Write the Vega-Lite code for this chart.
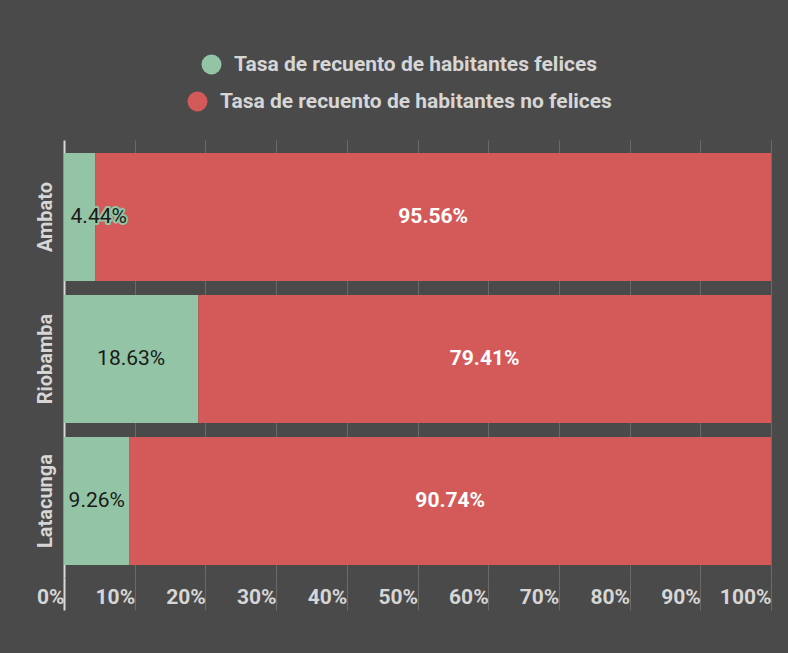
{
  "$schema": "https://vega.github.io/schema/vega-lite/v6.json",
  "autosize": {"type": "none"},
  "width": 707,
  "height": 438,
  "padding": {"left": 64, "top": 140, "right": 17, "bottom": 75},
  "background": "#4a4a4a",
  "config": {
    "view": {"stroke": null},
    "font": "Roboto"
  },
  "data": {
    "values": [
      {"city": "Ambato", "serie": "Tasa de recuento de habitantes felices", "ord": 1, "value": 0.0444},
      {"city": "Ambato", "serie": "Tasa de recuento de habitantes no felices", "ord": 2, "value": 0.9556},
      {"city": "Riobamba", "serie": "Tasa de recuento de habitantes felices", "ord": 1, "value": 0.1863},
      {"city": "Riobamba", "serie": "Tasa de recuento de habitantes no felices", "ord": 2, "value": 0.7941},
      {"city": "Latacunga", "serie": "Tasa de recuento de habitantes felices", "ord": 1, "value": 0.0926},
      {"city": "Latacunga", "serie": "Tasa de recuento de habitantes no felices", "ord": 2, "value": 0.9074}
    ]
  },
  "transform": [
    {"stack": "value", "groupby": ["city"], "sort": [{"field": "ord", "order": "ascending"}], "offset": "normalize", "as": ["x0", "x1"]}
  ],
  "encoding": {
    "y": {
      "field": "city",
      "type": "nominal",
      "sort": ["Ambato", "Riobamba", "Latacunga"],
      "scale": {"paddingInner": 0.1, "paddingOuter": 0.092},
      "axis": {
        "title": null,
        "domain": false,
        "ticks": false,
        "labelAngle": 270,
        "labelAlign": "center",
        "labelBaseline": "bottom",
        "labelPadding": 9,
        "labelFont": "Roboto",
        "labelFontSize": 20,
        "labelFontWeight": "bold",
        "labelColor": "#d6d6d6"
      }
    }
  },
  "layer": [
    {
      "mark": {"type": "bar"},
      "encoding": {
        "x": {
          "field": "x0",
          "type": "quantitative",
          "scale": {"domain": [0, 1], "nice": false},
          "axis": {
            "title": null,
            "format": ".0%",
            "values": [0, 0.1, 0.2, 0.3, 0.4, 0.5, 0.6, 0.7, 0.8, 0.9, 1],
            "grid": true,
            "gridColor": {"condition": {"test": "datum.value === 0", "value": "#d8d8d8"}, "value": "#6a6a6a"},
            "gridWidth": {"condition": {"test": "datum.value === 0", "value": 2}, "value": 1},
            "domain": false,
            "tickSize": 32,
            "tickColor": {"condition": {"test": "datum.value === 0", "value": "#d8d8d8"}, "value": "#6a6a6a"},
            "tickWidth": {"condition": {"test": "datum.value === 0", "value": 2}, "value": 1},
            "labelAlign": "right",
            "labelBaseline": "middle",
            "labelPadding": -13,
            "labelDx": -7,
            "labelFont": "Roboto",
            "labelFontSize": 21,
            "labelFontWeight": "bold",
            "labelColor": "#d6d6d6",
            "labelFlush": false,
            "labelOverlap": false
          }
        },
        "x2": {"field": "x1"},
        "color": {
          "field": "serie",
          "type": "nominal",
          "scale": {
            "domain": ["Tasa de recuento de habitantes felices", "Tasa de recuento de habitantes no felices"],
            "range": ["#93c4a5", "#d45959"]
          },
          "legend": {
            "title": null,
            "orient": "none",
            "legendX": 137,
            "legendY": -86,
            "values": ["Tasa de recuento de habitantes felices"],
            "direction": "vertical",
            "symbolType": "circle",
            "symbolSize": 400,
            "symbolStrokeWidth": 0,
            "symbolOpacity": 1,
            "labelFont": "Roboto",
            "labelFontSize": 21,
            "labelFontWeight": "bold",
            "labelColor": "#d6d6d6",
            "labelOffset": 12,
            "labelLimit": 700
          }
        }
      }
    },
    {
      "transform": [
        {"filter": "datum.ord === 2"},
        {"fold": ["x0", "x1"], "as": ["edge", "pos"]}
      ],
      "mark": {"type": "point", "filled": true, "color": "#d45959", "opacity": 0, "size": 400},
      "encoding": {
        "x": {"field": "pos", "type": "quantitative", "aggregate": "mean", "title": null},
        "shape": {
          "field": "serie",
          "type": "nominal",
          "scale": {"domain": ["Tasa de recuento de habitantes no felices"], "range": ["circle"]},
          "legend": {
            "title": null,
            "orient": "none",
            "legendX": 123,
            "legendY": -49,
            "symbolSize": 400,
            "symbolStrokeWidth": 0,
            "symbolOpacity": 1,
            "symbolFillColor": "#d45959",
            "labelFont": "Roboto",
            "labelFontSize": 21,
            "labelFontWeight": "bold",
            "labelColor": "#d6d6d6",
            "labelOffset": 12,
            "labelLimit": 700
          }
        }
      }
    },
    {
      "transform": [
        {"filter": "datum.ord === 1 && datum.city !== 'Ambato'"},
        {"fold": ["x0", "x1"], "as": ["edge", "pos"]}
      ],
      "mark": {"type": "text", "fontSize": 21, "font": "Roboto", "color": "#1a1a1a", "align": "center", "baseline": "middle"},
      "encoding": {
        "x": {"field": "pos", "type": "quantitative", "aggregate": "mean", "title": null},
        "text": {"field": "value", "type": "quantitative", "aggregate": "max", "format": ".2%"}
      }
    },
    {
      "transform": [
        {"filter": "datum.ord === 1 && datum.city === 'Ambato'"},
        {"fold": ["x0", "x1"], "as": ["edge", "pos"]}
      ],
      "mark": {"type": "text", "fontSize": 21, "font": "Roboto", "color": "#93c4a5", "stroke": "#93c4a5", "strokeWidth": 4, "strokeJoin": "round", "align": "center", "baseline": "middle", "dx": 19},
      "encoding": {
        "x": {"field": "pos", "type": "quantitative", "aggregate": "mean", "title": null},
        "text": {"field": "value", "type": "quantitative", "aggregate": "max", "format": ".2%"}
      }
    },
    {
      "transform": [
        {"filter": "datum.ord === 1 && datum.city === 'Ambato'"},
        {"fold": ["x0", "x1"], "as": ["edge", "pos"]}
      ],
      "mark": {"type": "text", "fontSize": 21, "font": "Roboto", "color": "#1a1a1a", "align": "center", "baseline": "middle", "dx": 19},
      "encoding": {
        "x": {"field": "pos", "type": "quantitative", "aggregate": "mean", "title": null},
        "text": {"field": "value", "type": "quantitative", "aggregate": "max", "format": ".2%"}
      }
    },
    {
      "transform": [
        {"filter": "datum.ord === 2"},
        {"fold": ["x0", "x1"], "as": ["edge", "pos"]}
      ],
      "mark": {"type": "text", "fontSize": 21, "font": "Roboto", "fontWeight": "bold", "color": "#ffffff", "align": "center", "baseline": "middle"},
      "encoding": {
        "x": {"field": "pos", "type": "quantitative", "aggregate": "mean", "title": null},
        "text": {"field": "value", "type": "quantitative", "aggregate": "max", "format": ".2%"}
      }
    }
  ]
}
